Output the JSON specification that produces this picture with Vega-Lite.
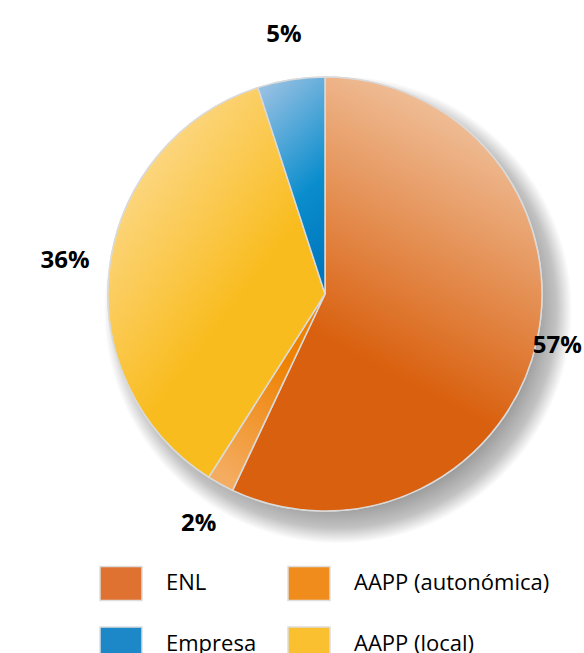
{
  "$schema": "https://vega.github.io/schema/vega-lite/v6.json",
  "width": 518,
  "height": 588,
  "autosize": {"type": "none"},
  "padding": {"left": 66, "top": 0, "right": 0, "bottom": 65},
  "background": "white",
  "config": {"view": {"stroke": null}},
  "data": {
    "values": [
      {"categoria": "ENL", "valor": 0.57, "orden": 1},
      {"categoria": "AAPP (autonómica)", "valor": 0.02, "orden": 2},
      {"categoria": "AAPP (local)", "valor": 0.36, "orden": 3},
      {"categoria": "Empresa", "valor": 0.05, "orden": 4}
    ]
  },
  "layer": [
    {
      "transform": [{"filter": "datum.orden === 1"}],
      "mark": {
        "type": "arc",
        "theta": 0,
        "theta2": 6.2832,
        "outerRadius": 260,
        "fill": {"gradient": "radial", "x1": 0.525, "y1": 0.53, "r1": 0, "x2": 0.525, "y2": 0.53, "r2": 0.5, "stops": [{"offset": 0, "color": "#9a9a9a"}, {"offset": 0.76, "color": "#9c9c9c"}, {"offset": 0.84, "color": "#c2c2c2"}, {"offset": 0.9, "color": "#ffffff"}, {"offset": 1, "color": "#ffffff"}]}
      },
      "encoding": {}
    },
    {
      "mark": {"type": "arc", "outerRadius": 217, "stroke": "#dadada", "strokeWidth": 1.5},
      "encoding": {
        "theta": {"field": "valor", "type": "quantitative", "stack": true},
        "order": {"field": "orden", "type": "quantitative"},
        "color": {
          "field": "categoria",
          "type": "nominal",
          "scale": {
            "domain": ["ENL", "Empresa", "AAPP (autonómica)", "AAPP (local)"],
            "range": ["#DF7230", "#1C88C8", "#F08C1C", "#FBC030"]
          },
          "legend": {
            "title": null,
            "orient": "none",
            "legendX": 33,
            "legendY": 561,
            "columns": 2,
            "symbolType": "M-1,-0.81L1,-0.81L1,0.81L-1,0.81Z",
            "symbolSize": 1764,
            "symbolStrokeColor": "#dddddd",
            "symbolStrokeWidth": 1.5,
            "symbolOpacity": 1,
            "labelFont": "Open Sans",
            "labelFontSize": 22,
            "labelColor": "#000000",
            "labelOffset": 23,
            "labelLimit": 300,
            "columnPadding": 28,
            "rowPadding": 18,
            "padding": 0
          }
        }
      }
    },
    {
      "mark": {
        "type": "arc",
        "outerRadius": 217,
        "stroke": "#dadada",
        "strokeWidth": 1.5,
        "fill": {"expr": "datum.categoria === 'ENL' ? {gradient: 'linear', x1: 0.7, y1: 0, x2: 0.45, y2: 0.66, stops: [{offset: 0, color: '#F2C8A6'}, {offset: 1, color: '#D9600E'}]} : datum.categoria === 'AAPP (autonómica)' ? {gradient: 'linear', x1: 0.3, y1: 1, x2: 0.6, y2: 0.3, stops: [{offset: 0, color: '#F4AC60'}, {offset: 1, color: '#EE8100'}]} : datum.categoria === 'Empresa' ? {gradient: 'linear', x1: 0.3, y1: 0, x2: 0.6, y2: 1, stops: [{offset: 0, color: '#93BFE2'}, {offset: 0.6, color: '#0A8DCD'}, {offset: 1, color: '#0077BD'}]} : {gradient: 'linear', x1: 0.2, y1: 0, x2: 0.6, y2: 0.55, stops: [{offset: 0, color: '#FDDD9A'}, {offset: 1, color: '#F9BC1E'}]}"}
      },
      "encoding": {
        "theta": {"field": "valor", "type": "quantitative", "stack": true},
        "order": {"field": "orden", "type": "quantitative"}
      }
    },
    {
      "mark": {"type": "text", "radius": {"expr": "datum.categoria === 'ENL' ? 238 : 262"}, "fontSize": 24, "fontWeight": "bold", "font": "Open Sans", "color": "#000000"},
      "encoding": {
        "theta": {"field": "valor", "type": "quantitative", "stack": true},
        "order": {"field": "orden", "type": "quantitative"},
        "text": {"field": "valor", "type": "quantitative", "format": ".0%"}
      }
    }
  ]
}
